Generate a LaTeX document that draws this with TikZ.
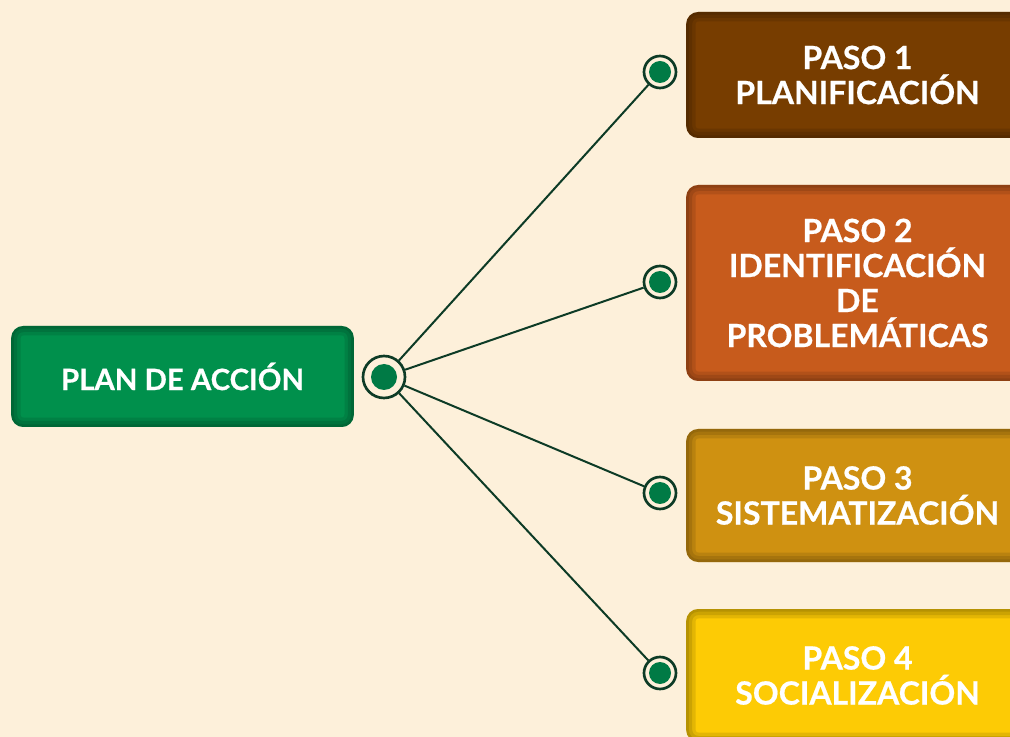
\documentclass[tikz,border=0pt]{standalone}
\usepackage{fontspec}
\setmainfont{Lato}[BoldFeatures={FakeBold=0.6}]
\usetikzlibrary{positioning}
\definecolor{pabg}{HTML}{FDF0DA}
\definecolor{pagreen}{HTML}{00904C}
\definecolor{pabrown}{HTML}{773D00}
\definecolor{paorange}{HTML}{C75B1C}
\definecolor{pamustard}{HTML}{CF9111}
\definecolor{payellow}{HTML}{FDCB05}
\definecolor{paline}{HTML}{0D3B26}
\definecolor{padot}{HTML}{007A45}
\tikzset{
  stepbox/.style={rectangle, rounded corners=9pt, fill=#1, text=white,
    font=\bfseries\fontsize{24}{26.25}\selectfont, align=center,
    minimum width=257pt, inner sep=0pt,
    path picture={
      \foreach \w in {14,9,4}
        \draw[black, opacity=0.1, line width=\w pt, rounded corners=9pt]
          (path picture bounding box.south west) rectangle (path picture bounding box.north east);
    }},
  ring/.style={circle, draw=paline, line width=2pt, fill=pabg, minimum size=#1, inner sep=0pt},
  core/.style={circle, fill=padot, minimum size=#1, inner sep=0pt},
  link/.style={draw=paline, line width=1.5pt}
}
\begin{document}
\begin{tikzpicture}[x=0.75pt, y=-0.75pt]
\useasboundingbox[fill=pabg] (0,0) rectangle (1010,737);
\clip (0,0) rectangle (1010,737);

% centre
\node[stepbox=pagreen, minimum height=75.75pt, font=\bfseries\fontsize{22}{26}\selectfont] (plan) at (182.5,376.5) {PLAN DE ACCIÓN};
\node[ring=31.5pt] (hub) at (384,377) {};
\node[core=19.5pt] at (hub) {};

% pasos
\node[stepbox=pabrown, minimum height=94.5pt] (paso1) at (857.5,75) {PASO 1\\PLANIFICACIÓN};
\node[stepbox=paorange, minimum height=147pt] (paso2) at (857.5,283) {PASO 2\\IDENTIFICACIÓN\\DE\\PROBLEMÁTICAS};
\node[stepbox=pamustard, minimum height=99.75pt] (paso3) at (857.5,495.5) {PASO 3\\SISTEMATIZACIÓN};
\node[stepbox=payellow, minimum height=99.75pt] (paso4) at (857.5,675.5) {PASO 4\\SOCIALIZACIÓN};

% puntos
\foreach \i/\y in {1/72,2/282,3/493,4/673}{
  \node[ring=24pt] (d\i) at (660,\y) {};
  \node[core=16.5pt] at (d\i) {};
  \draw[link] (hub) -- (d\i);
}
\end{tikzpicture}
\end{document}
